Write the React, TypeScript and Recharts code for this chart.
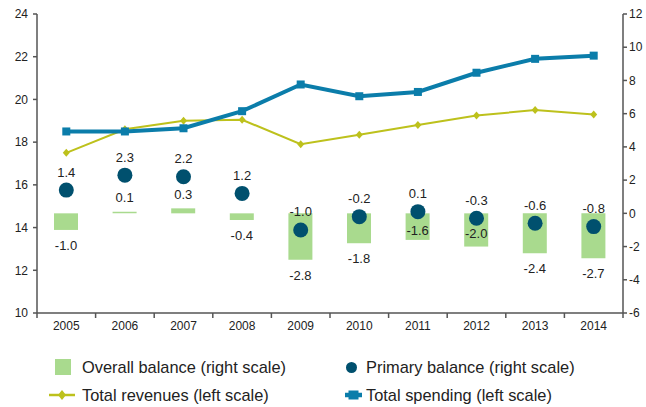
import {
  ComposedChart,
  Bar,
  Line,
  Scatter,
  XAxis,
  YAxis,
  LabelList,
  Legend,
} from "recharts";

const years = ["2005", "2006", "2007", "2008", "2009", "2010", "2011", "2012", "2013", "2014"];
const overallBalance = [-1.0, 0.1, 0.3, -0.4, -2.8, -1.8, -1.6, -2.0, -2.4, -2.7];
const primaryBalance = [1.4, 2.3, 2.2, 1.2, -1.0, -0.2, 0.1, -0.3, -0.6, -0.8];
const totalRevenues = [17.5, 18.6, 19.0, 19.05, 17.9, 18.35, 18.8, 19.25, 19.5, 19.3];
const totalSpending = [18.5, 18.5, 18.65, 19.45, 20.7, 20.15, 20.35, 21.25, 21.9, 22.05];
const leftTicks = [10, 12, 14, 16, 18, 20, 22, 24];
const rightTicks = [-6, -4, -2, 0, 2, 4, 6, 8, 10, 12];
// years whose overall-balance label sits in the middle of the bar
const centredLabelYears = ["2011", "2012"];

const data = years.map((year, i) => ({
  year,
  overall: overallBalance[i],
  primary: primaryBalance[i],
  revenues: totalRevenues[i],
  spending: totalSpending[i],
}));

const FONT = '"Liberation Sans", Arial, sans-serif';
const TEXT = "#222222";
const AXIS = "#555555";
const GREEN = "#A9DA8E";
const DARK = "#00506E";
const BLUE = "#0B7DAA";
const OLIVE = "#BDC11C";

const PLOT_LEFT = 37;
const PLOT_RIGHT = 623;
const HALF_BAND = (PLOT_RIGHT - PLOT_LEFT) / years.length / 2;

const YearTick = (props: any) => {
  const { x, y, payload, index } = props;
  return (
    <g>
      <line x1={x - HALF_BAND} y1={y} x2={x - HALF_BAND} y2={y + 5} stroke={AXIS} strokeWidth={1.5} />
      {index === years.length - 1 && (
        <line x1={x + HALF_BAND} y1={y} x2={x + HALF_BAND} y2={y + 5} stroke={AXIS} strokeWidth={1.5} />
      )}
      <text x={x} y={y + 17} textAnchor="middle" fontSize={12} fill={TEXT} fontFamily={FONT}>
        {payload.value}
      </text>
    </g>
  );
};

const BarLabel = (props: any) => {
  const { x, y, width, height, value, index } = props;
  const top = Math.min(y, y + height);
  const bottom = Math.max(y, y + height);
  let ty = value >= 0 ? top - 9.5 : bottom + 20;
  if (centredLabelYears.includes(years[index])) ty = (top + bottom) / 2 + 8.5;
  return (
    <text x={x + width / 2} y={ty} textAnchor="middle" fontSize={13} fill={TEXT} fontFamily={FONT}>
      {Number(value).toFixed(1)}
    </text>
  );
};

const PrimaryDot = (props: any) => {
  const { cx, cy, payload } = props;
  return (
    <g>
      <circle cx={cx} cy={cy} r={7.5} fill={DARK} />
      <text x={cx} y={cy - 13.5} textAnchor="middle" fontSize={13} fill={TEXT} fontFamily={FONT}>
        {payload.primary.toFixed(1)}
      </text>
    </g>
  );
};

const SquareDot = (props: any) => {
  const { cx, cy } = props;
  return <rect x={cx - 4} y={cy - 4} width={8} height={8} fill={BLUE} />;
};

const DiamondDot = (props: any) => {
  const { cx, cy } = props;
  return <path d={`M${cx},${cy - 4}L${cx + 3.5},${cy}L${cx},${cy + 4}L${cx - 3.5},${cy}Z`} fill={OLIVE} />;
};

const legendText = {
  position: "absolute" as const,
  fontSize: 16.4,
  color: TEXT,
  fontFamily: FONT,
  lineHeight: "20px",
  whiteSpace: "nowrap" as const,
};

const LegendContent = () => (
  <div style={{ position: "relative", width: 646, height: 56 }}>
    <div style={{ position: "absolute", left: 55, top: 7, width: 16, height: 16, background: GREEN }} />
    <div style={{ ...legendText, left: 82, top: 5 }}>Overall balance (right scale)</div>
    <div style={{ position: "absolute", left: 346, top: 9.5, width: 11, height: 11, borderRadius: 6, background: DARK }} />
    <div style={{ ...legendText, left: 366, top: 5 }}>Primary balance (right scale)</div>
    <svg style={{ position: "absolute", left: 47, top: 35 }} width={30} height={16}>
      <line x1={2} y1={8} x2={28} y2={8} stroke={OLIVE} strokeWidth={2.5} />
      <path d="M15,3L19,8L15,13L11,8Z" fill={OLIVE} />
    </svg>
    <div style={{ ...legendText, left: 82, top: 33 }}>Total revenues (left scale)</div>
    <svg style={{ position: "absolute", left: 343, top: 35 }} width={22} height={16}>
      <line x1={2} y1={8} x2={19} y2={8} stroke={BLUE} strokeWidth={4.5} />
      <rect x={5.5} y={3.5} width={10} height={9} fill={BLUE} />
    </svg>
    <div style={{ ...legendText, left: 366, top: 33 }}>Total spending (left scale)</div>
  </div>
);

export default function App() {
  return (
    <div
      style={{
        position: "absolute",
        left: 0,
        top: 0,
        width: 646,
        height: 407,
        overflow: "hidden",
        background: "#ffffff",
      }}
    >
      <ComposedChart
        width={680}
        height={407}
        data={data}
        margin={{ top: 14, right: 17, bottom: 64, left: 0 }}
        barCategoryGap={0}
      >
        <XAxis
          dataKey="year"
          xAxisId="x"
          height={30}
          tickSize={0}
          tickMargin={0}
          tickLine={false}
          axisLine={{ stroke: AXIS, strokeWidth: 1.5 }}
          tick={<YearTick />}
          interval={0}
        />
        <YAxis
          yAxisId="left"
          orientation="left"
          width={37}
          domain={[10, 24]}
          ticks={leftTicks}
          interval={0}
          tickSize={4}
          tickMargin={5}
          axisLine={{ stroke: AXIS, strokeWidth: 1.5 }}
          tickLine={{ stroke: AXIS, strokeWidth: 1.5 }}
          tick={{ fill: TEXT, fontSize: 12, fontFamily: FONT }}
        />
        <YAxis
          yAxisId="right"
          orientation="right"
          width={40}
          domain={[-6, 12]}
          ticks={rightTicks}
          interval={0}
          tickSize={4}
          tickMargin={2}
          axisLine={{ stroke: AXIS, strokeWidth: 1.5 }}
          tickLine={{ stroke: AXIS, strokeWidth: 1.5 }}
          tick={{ fill: TEXT, fontSize: 12, fontFamily: FONT }}
        />
        <Bar
          xAxisId="x"
          yAxisId="right"
          dataKey="overall"
          fill={GREEN}
          barSize={24}
          isAnimationActive={false}
        >
          <LabelList dataKey="overall" content={<BarLabel />} />
        </Bar>
        <Scatter
          xAxisId="x"
          yAxisId="right"
          dataKey="primary"
          shape={<PrimaryDot />}
          isAnimationActive={false}
        />
        <Line
          xAxisId="x"
          yAxisId="left"
          dataKey="revenues"
          stroke={OLIVE}
          strokeWidth={2}
          dot={<DiamondDot />}
          activeDot={false}
          isAnimationActive={false}
        />
        <Line
          xAxisId="x"
          yAxisId="left"
          dataKey="spending"
          stroke={BLUE}
          strokeWidth={4}
          dot={<SquareDot />}
          activeDot={false}
          isAnimationActive={false}
        />
        <Legend
          layout="vertical"
          verticalAlign="middle"
          align="center"
          wrapperStyle={{ top: 352, left: 0, width: 646 }}
          content={<LegendContent />}
        />
      </ComposedChart>
    </div>
  );
}
